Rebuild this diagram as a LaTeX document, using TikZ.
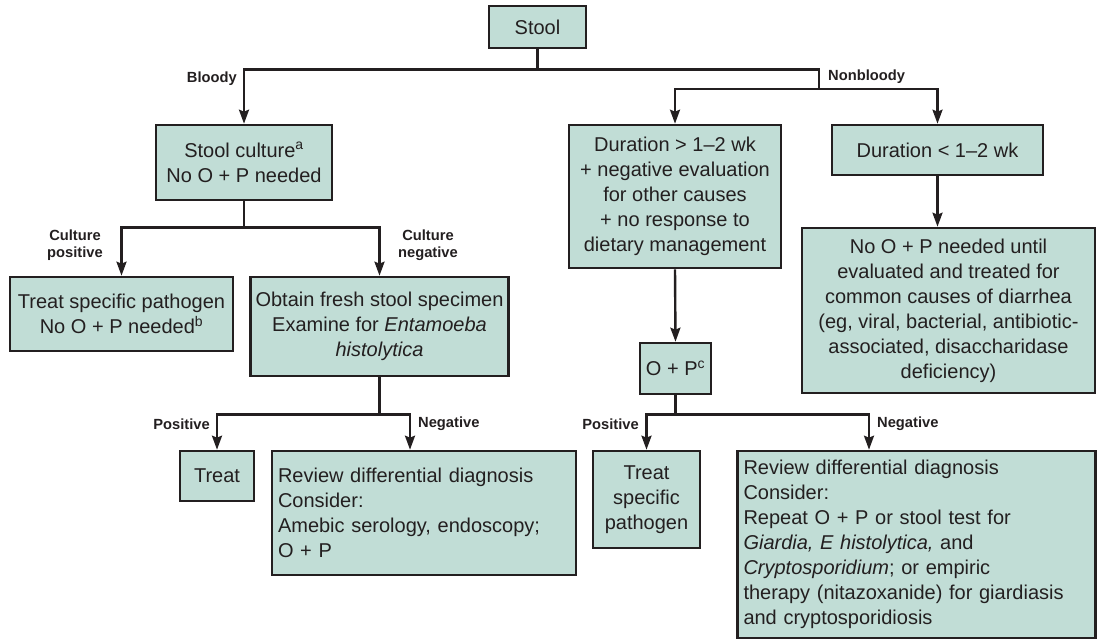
\documentclass[tikz,border=0pt]{standalone}
\usepackage{fontspec}
\setmainfont{Liberation Sans}
\usepackage{xcolor}
\usepackage{tikz}
\usetikzlibrary{arrows.meta, positioning}
\definecolor{boxfill}{RGB}{193,221,214}
\definecolor{ink}{RGB}{35,31,32}

\begin{document}
\begin{tikzpicture}[x=1pt, y=-1pt, >={Stealth[length=14pt, width=10pt, inset=2pt]},
    box/.style={draw=ink, line width=2.6pt, fill=boxfill, text=ink, inner sep=5pt,
        align=center, font=\fontsize{20}{25}\selectfont},
    leftbox/.style={box, align=left},
    lbl/.style={text=ink, inner sep=0pt, align=center, font=\bfseries\fontsize{14.7}{17}\selectfont},
    conn/.style={draw=ink, line width=2.4pt}]
    \useasboundingbox (0,0) rectangle (1098,641);

    % 1. Boxes, top row
    \node[box, minimum width=97pt, minimum height=42pt] (stool) at (537.5,27) {Stool};
    \node[box, minimum width=176pt, minimum height=75pt] (culture) at (244,162.5)
        {Stool culture\textsuperscript{a}\\No O + P needed};
    \node[box, minimum width=212pt, minimum height=143pt] (durlong) at (675,196.5)
        {Duration > 1–2 wk\\+ negative evaluation\\for other causes\\+ no response to\\dietary management};
    \node[box, minimum width=211pt, minimum height=50pt] (durshort) at (937.5,150)
        {Duration < 1–2 wk};

    % 2. Boxes, middle row
    \node[box, minimum width=223pt, minimum height=74pt] (treatpath) at (121.5,314)
        {Treat specific pathogen\\No O + P needed\textsuperscript{b}};
    \node[box, minimum width=255pt, minimum height=99pt] (obtain) at (379.5,326.5)
        {Obtain fresh stool specimen\\Examine for \textit{Entamoeba}\\\textit{histolytica}};
    \node[box, minimum width=71pt, minimum height=51pt] (oandp) at (675.5,368.5)
        {O + P\textsuperscript{c}};
    \node[box, minimum width=293pt, minimum height=165pt] (noneeded) at (948.5,310.5)
        {No O + P needed until\\evaluated and treated for\\common causes of diarrhea\\(eg, viral, bacterial, antibiotic-\\associated, disaccharidase\\deficiency)};

    % 3. Boxes, bottom row
    \node[box, minimum width=74pt, minimum height=50pt] (treat) at (217,476) {Treat};
    \node[leftbox, minimum width=304pt, minimum height=124pt, text width=292pt] (reviewa) at (424,513)
        {Review differential diagnosis\\Consider:\\Amebic serology, endoscopy;\\O + P};
    \node[box, minimum width=107pt, minimum height=97pt] (treatspec) at (646.5,499.5)
        {Treat\\specific\\pathogen};
    \node[leftbox, minimum width=358pt, minimum height=187pt, text width=346pt] (reviewb) at (916.5,544.5)
        {Review differential diagnosis\\Consider:\\Repeat O + P or stool test for\\\textit{Giardia, E histolytica,} and\\\textit{Cryptosporidium}; or empiric\\therapy (nitazoxanide) for giardiasis\\and cryptosporidiosis};

    % 4. Connectors
    \coordinate (nbfork) at (819,89);
    \draw[conn] (stool.south) -- ++(0,20) coordinate (sfork);
    \draw[conn, ->] (sfork) -| (culture.north);
    \draw[conn] (sfork) -| (nbfork);
    \draw[conn, ->] (nbfork) -| (durlong.north);
    \draw[conn, ->] (nbfork) -| (durshort.north);
    \draw[conn, ->] (durshort.south) -- (durshort.south |- noneeded.north);

    \draw[conn] (culture.south) -- ++(0,26) coordinate (cfork);
    \draw[conn, ->] (cfork) -| (treatpath.north);
    \draw[conn, ->] (cfork) -| (obtain.north);

    \draw[conn] (obtain.south) -- ++(0,37) coordinate (ofork);
    \draw[conn, ->] (ofork) -| (treat.north);
    \draw[conn, ->] (ofork) -| ([xshift=-14pt]reviewa.north);

    \draw[conn, ->] (durlong.south) -- (oandp.north);
    \draw[conn] (oandp.south) -- ++(0,19) coordinate (pfork);
    \draw[conn, ->] (pfork) -| (treatspec.north);
    \draw[conn, ->] (pfork) -| ([xshift=-47.5pt]reviewb.north);

    % 5. Branch labels
    \node[lbl, anchor=east] (bloody) at (237,79) {Bloody};
    \node[lbl, anchor=west] (nonbloody) at (828,77) {Nonbloody};
    \node[lbl] (culpos) at (75,245) {Culture\\positive};
    \node[lbl] (culneg) at (428,245) {Culture\\negative};
    \node[lbl, anchor=east] (posa) at (210,424) {Positive};
    \node[lbl, anchor=west] (nega) at (418,424) {Negative};
    \node[lbl, anchor=east] (posb) at (639,424) {Positive};
    \node[lbl, anchor=west] (negb) at (877,424) {Negative};

\end{tikzpicture}
\end{document}
